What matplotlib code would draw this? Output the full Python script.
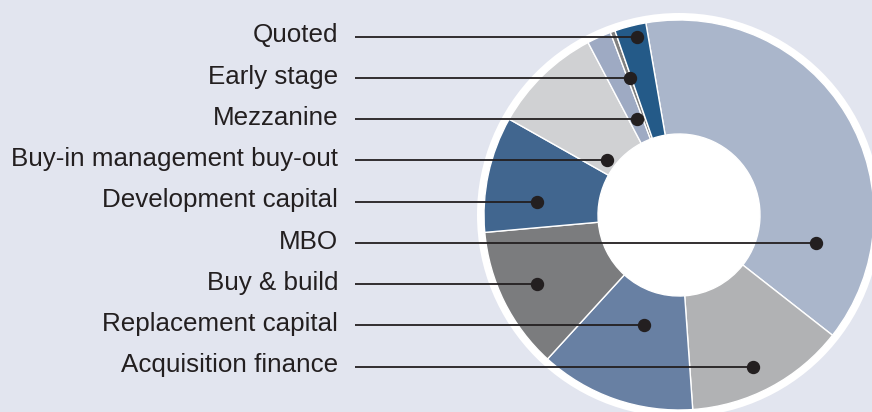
import matplotlib.pyplot as plt
from matplotlib.patches import Circle

# Share of deals by type (%), clockwise from the top
categories = ['MBO', 'Acquisition finance', 'Replacement capital', 'Buy & build',
              'Development capital', 'Buy-in management buy-out', 'Mezzanine',
              'Early stage', 'Quoted']
shares = [38.3, 13.3, 12.9, 11.8, 9.6, 9.1, 2.0, 0.4, 2.6]
colors = ['#aab6cb', '#b1b2b4', '#6880a3', '#7b7c7e', '#41668f',
          '#d0d1d3', '#9eaac3', '#7f7f7f', '#245a88']

# Label column, top to bottom
label_order = ['Quoted', 'Early stage', 'Mezzanine', 'Buy-in management buy-out',
               'Development capital', 'MBO', 'Buy & build', 'Replacement capital',
               'Acquisition finance']

# Where each leader line ends (x, in pixels) inside its wedge
dot_x = [637, 630, 637, 607, 537, 816, 537, 644, 753]

BG = '#e2e5ef'
INK = '#231f20'
W, H = 872, 412
CX, CY = 679, H - 215
R_OUT, R_IN = 195, 81


def main():
    plt.rcParams['font.family'] = ['Liberation Sans', 'DejaVu Sans']
    fig = plt.figure(figsize=(W / 100, H / 100), dpi=100, facecolor=BG)
    ax = fig.add_axes([0, 0, 1, 1])
    ax.set_facecolor(BG)

    # white disc gives the outer rim and fills the hole
    ax.add_patch(Circle((CX, CY), R_OUT + 7, facecolor='white', edgecolor='none', zorder=0))

    wedges, _ = ax.pie(shares, colors=colors, startangle=99.8, counterclock=False,
                       radius=R_OUT, center=(CX, CY), frame=True,
                       wedgeprops=dict(width=R_OUT - R_IN, edgecolor='white', linewidth=1.0))
    for w in wedges:
        w.set_zorder(1)

    top, bottom = 36.7, 366.7
    step = (bottom - top) / (len(label_order) - 1)
    for i, (name, x_end) in enumerate(zip(label_order, dot_x)):
        y = H - (top + i * step)
        ax.text(338, y - 5.7, name, ha='right', va='baseline',
                fontsize=18.7, color=INK)
        ax.plot([355, x_end], [y, y], color=INK, lw=1.3, solid_capstyle='butt', zorder=3)
        ax.plot(x_end, y, 'o', color=INK, ms=8.6, zorder=4)

    ax.set_xlim(0, W)
    ax.set_ylim(0, H)
    ax.set_aspect('equal')
    ax.axis('off')

    fig.savefig('out.png', dpi=100, facecolor=BG)


if __name__ == '__main__':
    main()
